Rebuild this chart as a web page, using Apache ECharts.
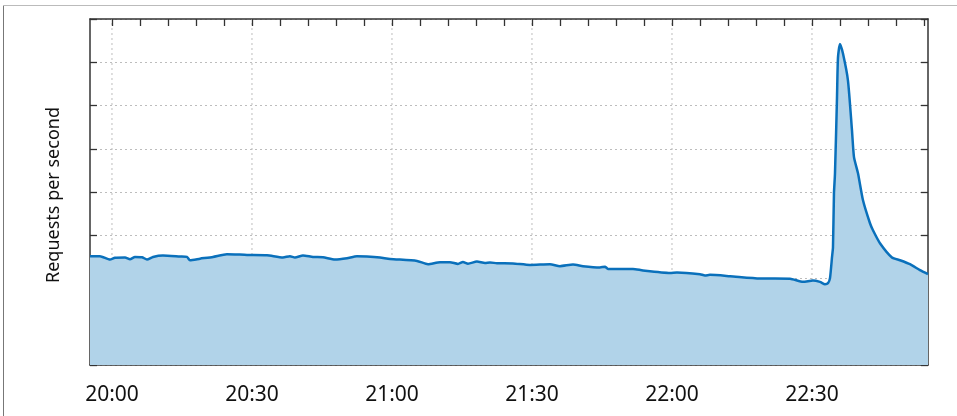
<!DOCTYPE html>
<html>
<head>
<meta charset="utf-8">
<script src="https://cdn.jsdelivr.net/npm/echarts@6/dist/echarts.min.js"></script>
<style>html,body{margin:0;padding:0;background:#fff}#c{width:957px;height:416px}</style>
</head>
<body>
<div id="c"></div>
<script>
// minutes after 20:00
var minutes = [-4.71,-2.57,-0.43,0.64,2.79,3.86,4.93,6.43,7.50,8.79,10.93,14.57,16.07,16.71,18.86,21.64,24.64,28.93,33.21,36.64,38.14,39.21,40.93,43.07,45.21,47.79,50.36,52.50,54.64,57.43,59.57,65.36,67.71,70.29,72.43,74.14,75.21,76.29,78.21,79.93,81.00,82.50,85.93,89.57,93.86,96.00,98.79,100.93,104.57,105.64,106.29,111.64,113.79,119.57,121.07,126.00,127.07,128.14,132.43,138.86,145.29,148.07,150.21,151.71,152.79,153.43,153.86,154.29,154.50,154.71,154.93,155.36,155.57,156.00,156.64,157.71,158.57,159.00,159.86,160.93,162.43,163.07,164.57,167.14,168.86,171.00,173.14,174.86];
var requests = [2.516,2.516,2.439,2.481,2.486,2.446,2.499,2.492,2.439,2.499,2.532,2.509,2.499,2.423,2.458,2.499,2.562,2.546,2.539,2.486,2.516,2.486,2.532,2.499,2.492,2.439,2.469,2.516,2.509,2.486,2.453,2.407,2.331,2.377,2.377,2.338,2.384,2.342,2.393,2.361,2.370,2.354,2.349,2.315,2.331,2.285,2.324,2.285,2.255,2.273,2.222,2.222,2.186,2.130,2.139,2.100,2.070,2.084,2.054,2.001,1.996,1.922,1.955,1.922,1.869,1.892,2.008,2.492,2.723,3.969,4.431,6.185,7.108,7.424,7.200,6.577,5.423,4.807,4.431,3.808,3.277,3.116,2.816,2.486,2.423,2.331,2.193,2.100];
var xLabelTicks = [0, 30, 60, 90, 120, 150];
var xMinorTicks = [0,6,12,18,24,30,36,42,48,54,60,66,72,78,84,90,96,102,108,114,120,126,132,138,144,150,156,162,168,174];
var xMin = -4.71, xMax = 174.86;
var yMin = 0, yMax = 8, yStep = 1;
var yTitle = 'Requests per second';

function fmt(m) {
  var t = 20 * 60 + Math.round(m);
  var h = Math.floor(t / 60), mm = t % 60;
  return h + ':' + (mm < 10 ? '0' : '') + mm;
}

var chart = echarts.init(document.getElementById('c'), null, {renderer: 'canvas'});
var axisLineStyle = {color: '#333', width: 1.5};
var dotted = {color: '#bdbdbd', type: [2, 3], width: 1};
var tickStyle = {color: '#333', width: 1.3};

// vertical grid lines drawn beneath the area, one thin series per labelled tick
var gridSeries = xLabelTicks.map(function (v) {
  return {
    type: 'line', xAxisIndex: 0, yAxisIndex: 0,
    data: [[v, yMin], [v, yMax]],
    showSymbol: false, silent: true, z: 1,
    lineStyle: dotted
  };
});

chart.setOption({
  animation: false,
  grid: {left: 90, right: 29, top: 19, bottom: 51, containLabel: false},
  xAxis: [{
    type: 'value', min: xMin, max: xMax, position: 'bottom',
    axisLine: {show: true, onZero: false, lineStyle: axisLineStyle},
    axisTick: {show: false},
    axisLabel: {customValues: xLabelTicks, formatter: fmt, color: '#111', fontSize: 21, fontFamily: 'Noto Sans', margin: 20},
    splitLine: {show: false}
  }, {
    type: 'value', min: xMin, max: xMax, position: 'top',
    axisLine: {show: true, onZero: false, lineStyle: axisLineStyle},
    axisTick: {show: false},
    axisLabel: {show: false},
    splitLine: {show: false}
  }],
  yAxis: [{
    type: 'value', min: yMin, max: yMax, interval: yStep, position: 'left',
    axisLine: {show: true, onZero: false, lineStyle: axisLineStyle},
    axisTick: {show: true, inside: true, length: 7, lineStyle: tickStyle},
    axisLabel: {show: false},
    splitLine: {show: true, lineStyle: dotted}
  }, {
    type: 'value', min: yMin, max: yMax, interval: yStep, position: 'right',
    axisLine: {show: true, onZero: false, lineStyle: axisLineStyle},
    axisTick: {show: true, inside: true, length: 7, lineStyle: tickStyle},
    axisLabel: {show: false},
    splitLine: {show: false}
  }],
  series: gridSeries.concat([{
    type: 'line',
    xAxisIndex: 0, yAxisIndex: 0,
    data: minutes.map(function (m, i) { return [m, requests[i]]; }),
    showSymbol: false,
    smooth: 0.2,
    lineStyle: {color: '#0a70bb', width: 2.5},
    areaStyle: {color: '#b1d3e9', opacity: 1},
    z: 3
  }])
});

// frame, title and inward top ticks; tick positions come from the chart's own scale
var graphics = [
  {type: 'line', shape: {x1: 3.5, y1: 5.5, x2: 3.5, y2: 416}, style: {stroke: '#777', lineWidth: 1}},
  {type: 'line', shape: {x1: 3.5, y1: 5.5, x2: 957, y2: 5.5}, style: {stroke: '#bbb', lineWidth: 1.2}},
  {type: 'text', x: 54, y: 195, rotation: Math.PI / 2,
   style: {text: yTitle, fontSize: 18, fontFamily: 'Noto Sans', fill: '#111', textAlign: 'center', textVerticalAlign: 'middle'}}
];
xMinorTicks.forEach(function (v) {
  var p = chart.convertToPixel({gridIndex: 0}, [v, yMax]);
  if (!p || isNaN(p[0]) || isNaN(p[1])) { return; }
  var px = Math.round(p[0]) + 0.5;
  graphics.push({
    type: 'line', z: 100, silent: true,
    shape: {x1: px, y1: p[1], x2: px, y2: p[1] + 7},
    style: {stroke: tickStyle.color, lineWidth: tickStyle.width}
  });
});
chart.setOption({graphic: graphics});
</script>
</body>
</html>
